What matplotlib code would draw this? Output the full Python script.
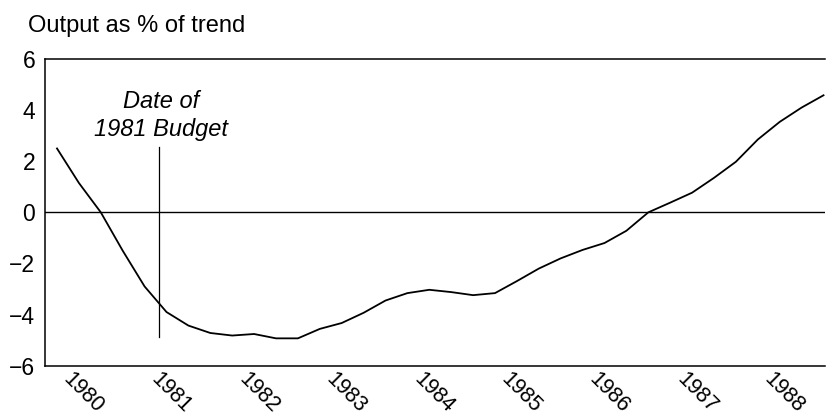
import numpy as np
import matplotlib
matplotlib.use("Agg")
import matplotlib.pyplot as plt
import matplotlib.transforms as mtransforms

plt.rcParams['font.family'] = ['Liberation Sans', 'DejaVu Sans']

# quarterly output as % of trend, 1980Q1 .. 1988Q4
quarters = 1980 + np.arange(36) / 4
output_gap = [2.5, 1.15, 0.0, -1.5, -2.9, -3.9, -4.43, -4.72, -4.82, -4.76,
              -4.93, -4.93, -4.56, -4.33, -3.93, -3.45, -3.16, -3.03, -3.12, -3.24,
              -3.16, -2.69, -2.2, -1.8, -1.47, -1.2, -0.72, 0.0, 0.38, 0.77,
              1.35, 1.98, 2.85, 3.54, 4.1, 4.58]
years = list(range(1980, 1989))
yticks = [-6, -4, -2, 0, 2, 4, 6]
budget_date = 1981.17
budget_span = (-4.87, 2.54)

fig = plt.figure(figsize=(8.26, 4.19), dpi=100)
ax = fig.add_axes([45 / 826, 1 - 365.7 / 419, 780 / 826, (365.7 - 59) / 419])

ax.plot(quarters, output_gap, color='black', lw=1.3)
ax.axhline(0, color='black', lw=1.0)
ax.plot([budget_date, budget_date], budget_span, color='black', lw=0.9)

ax.text(1981.19, 4.07, "Date of", style='italic', fontsize=17,
        ha='center', va='baseline')
ax.text(1981.19, 2.98, "1981 Budget", style='italic', fontsize=17,
        ha='center', va='baseline')

ax.set_xlim(1979.863, 1988.767)
ax.set_ylim(-6, 6)
ax.set_yticks(yticks)
ax.set_xticks(years)
ax.tick_params(axis='both', length=0, labelsize=16.5)
ax.tick_params(axis='x', pad=2.5, labelsize=15.5)
ax.tick_params(axis='y', pad=7)
ax.set_xticklabels([str(y) for y in years], rotation=-45, ha='left', va='top',
                   rotation_mode='anchor')
# push the slanted year labels right of their tick, like the original
offset = mtransforms.ScaledTranslation(17 / 100, 0, fig.dpi_scale_trans)
for lab in ax.get_xticklabels():
    lab.set_transform(lab.get_transform() + offset)

ax.spines['right'].set_visible(False)
for s in ['left', 'top', 'bottom']:
    ax.spines[s].set_linewidth(1.1)

fig.text(28 / 826, 1 - 32 / 419, "Output as % of trend", fontsize=17,
         ha='left', va='baseline')

fig.savefig("out.png", dpi=100)
